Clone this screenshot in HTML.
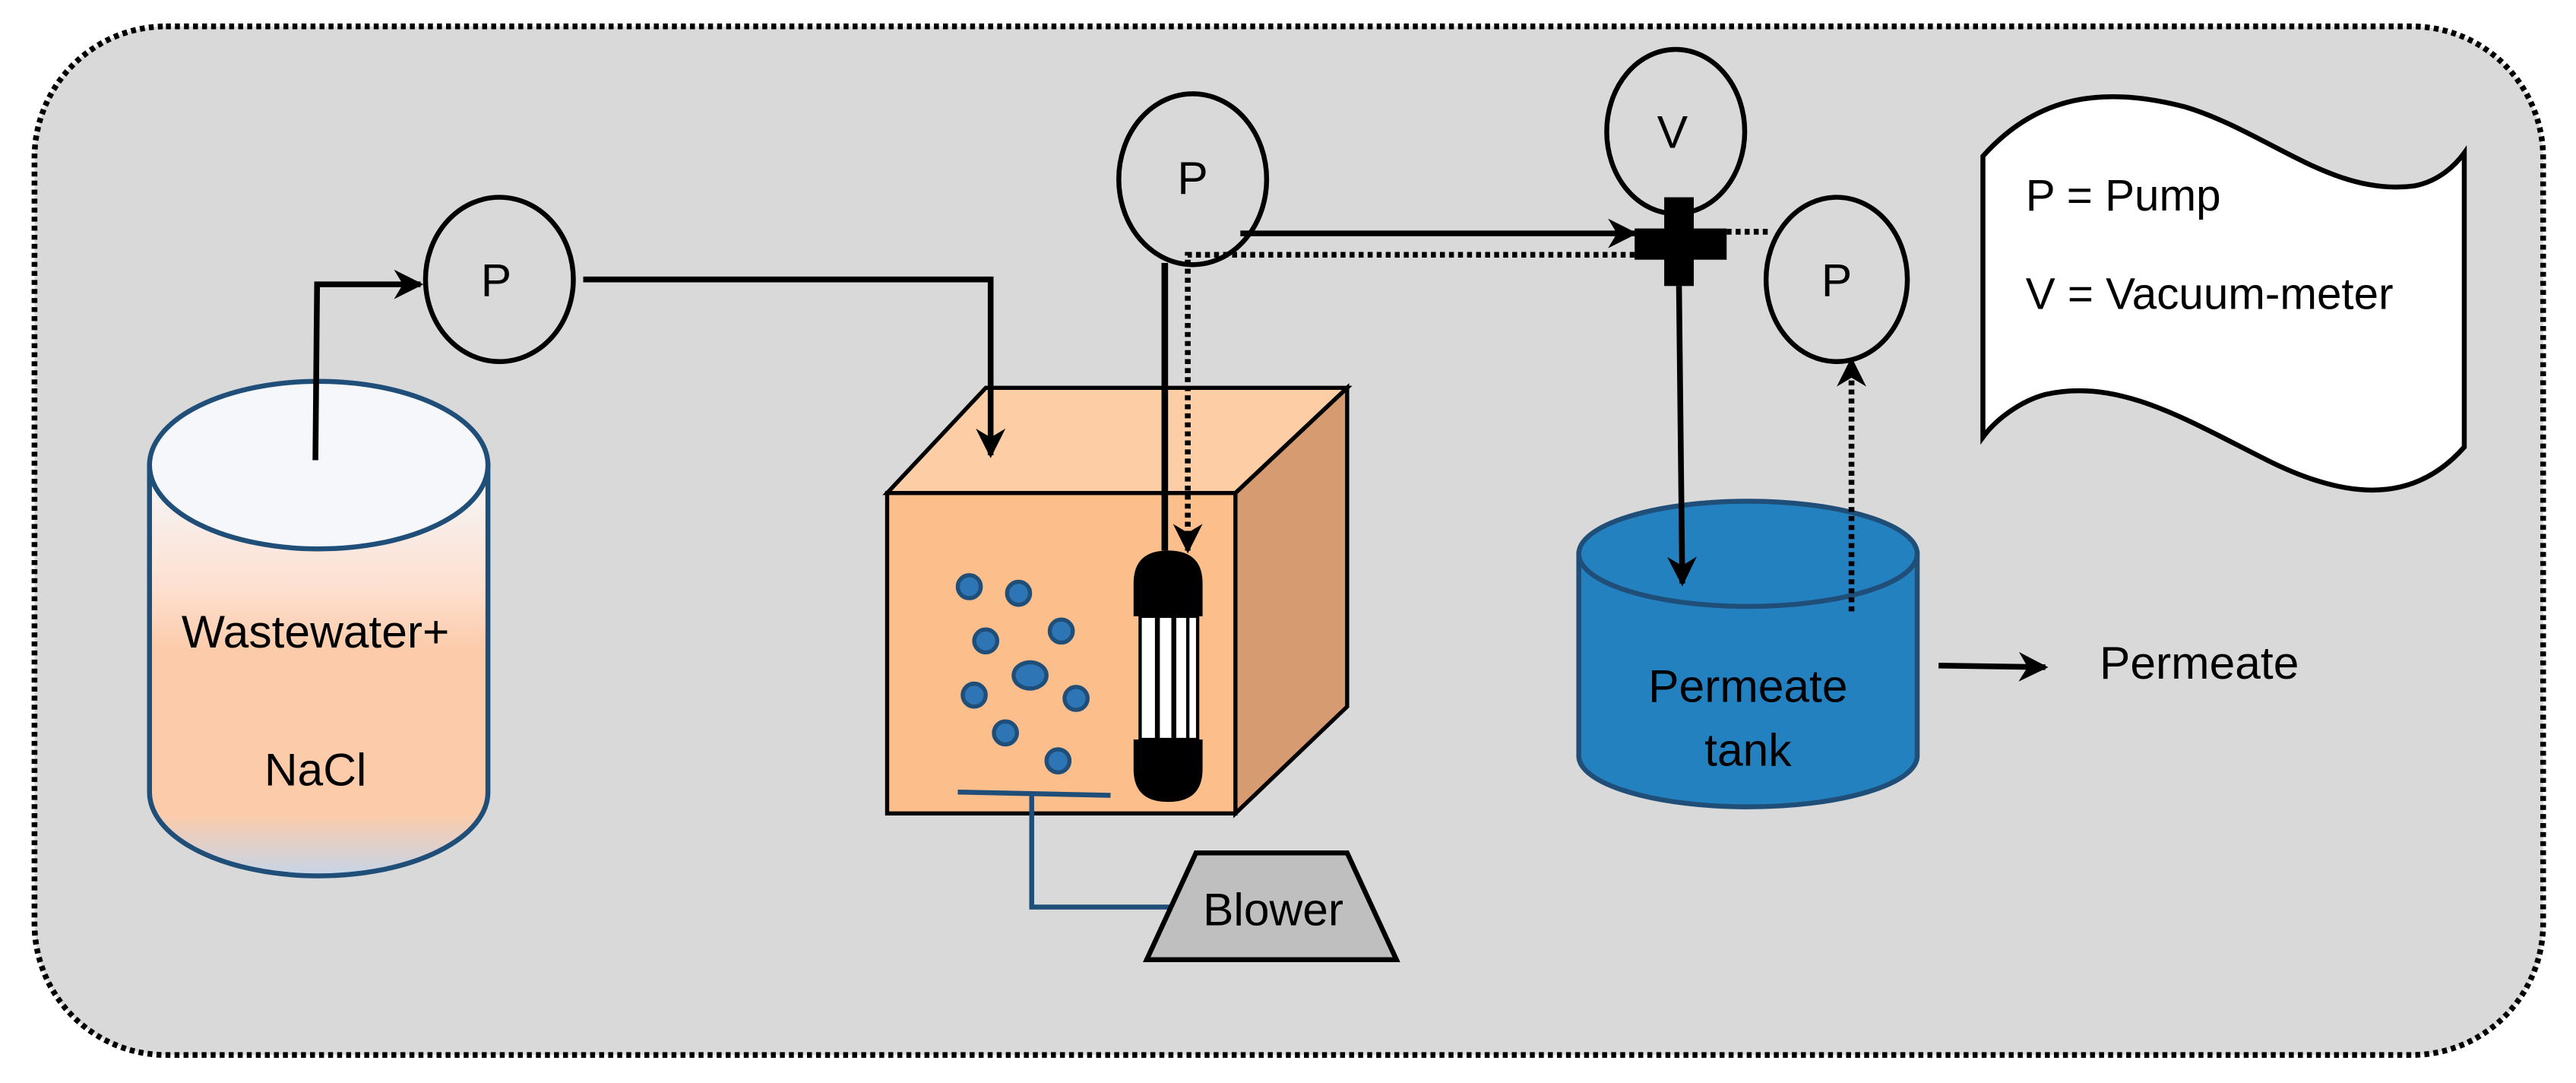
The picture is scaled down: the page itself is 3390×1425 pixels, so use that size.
<!DOCTYPE html>
<html><head><meta charset="utf-8"><style>html,body{margin:0;padding:0;background:#fff}svg{display:block}text{font-family:"Liberation Sans",sans-serif;fill:#000}</style></head>
<body>
<svg width="3390" height="1425" viewBox="0 0 1568 659" xmlns="http://www.w3.org/2000/svg">
<defs>
<linearGradient id="g1" x1="0" y1="0" x2="0" y2="1">
<stop offset="0" stop-color="#f5f8fc"/><stop offset="0.3" stop-color="#fde0d0"/><stop offset="0.45" stop-color="#fccbaa"/><stop offset="0.85" stop-color="#fccbaa"/><stop offset="1" stop-color="#c6d5e8"/>
</linearGradient>
<marker id="ar2" viewBox="0 0 10 10" refX="9" refY="5" markerWidth="18" markerHeight="18" orient="auto" markerUnits="userSpaceOnUse"><path d="M0,0 L10,5 L0,10 L3,5 z" fill="#000"/></marker>
</defs>
<rect x="21" y="16" width="1527" height="626" rx="80" fill="#d9d9d9" stroke="#000" stroke-width="3.5" stroke-dasharray="3,2.5"/>
<!-- left cylinder -->
<path d="M91,283 L91,482 A103,51 0 0 0 297,482 L297,283 Z" fill="url(#g1)" stroke="#1f4e79" stroke-width="3"/>
<ellipse cx="194" cy="283" rx="103" ry="51" fill="#f6f7fa" stroke="#1f4e79" stroke-width="3"/>
<text x="192" y="394" font-size="28" text-anchor="middle">Wastewater+</text>
<text x="192" y="478" font-size="28" text-anchor="middle">NaCl</text>
<!-- box -->
<polygon points="540,300 600,236 820,236 752,300" fill="#fdcda5" stroke="#000" stroke-width="2.5"/>
<polygon points="752,300 820,236 820,430 752,495" fill="#d79b72" stroke="#000" stroke-width="2.5"/>
<rect x="540" y="300" width="212" height="195" fill="#fcbf8c" stroke="#000" stroke-width="2.5"/>
<g fill="#2e75b6" stroke="#1f4e79" stroke-width="2.5">
<circle cx="590" cy="357" r="7"/><circle cx="620" cy="361" r="7"/><circle cx="600" cy="390" r="7"/><circle cx="646" cy="384" r="7"/><ellipse cx="627" cy="411" rx="10" ry="8"/><circle cx="593" cy="423" r="7"/><circle cx="655" cy="425" r="7"/><circle cx="612" cy="446" r="7"/><circle cx="644" cy="463" r="7"/>
</g>
<!-- membrane -->
<path d="M690,375 L690,355 Q690,335 711,335 Q732,335 732,355 L732,375 Z" fill="#000"/>
<path d="M690,450 L690,468 Q690,488 711,488 Q732,488 732,468 L732,450 Z" fill="#000"/>
<rect x="694" y="375" width="35" height="75" fill="#fff" stroke="#000" stroke-width="2"/>
<rect x="703" y="375" width="3" height="75" fill="#000"/><rect x="713" y="375" width="3" height="75" fill="#000"/><rect x="722" y="375" width="2" height="75" fill="#000"/>
<!-- diffuser -->
<line x1="583" y1="482" x2="676" y2="484" stroke="#1f4e79" stroke-width="3"/>
<polyline points="628,483 628,552 712,552" fill="none" stroke="#1f4e79" stroke-width="3"/>
<polygon points="698,584 728,519 820,519 850,584" fill="#bfbfbf" stroke="#000" stroke-width="3"/>
<text x="775" y="563" font-size="28" text-anchor="middle">Blower</text>
<!-- permeate tank -->
<path d="M961,337 L961,460 A103,31 0 0 0 1167,460 L1167,337 Z" fill="#2481c0" stroke="#1f4e79" stroke-width="3"/>
<ellipse cx="1064" cy="337" rx="103" ry="32" fill="#2481c0" stroke="#1f4e79" stroke-width="3"/>
<text x="1064" y="427" font-size="28" text-anchor="middle">Permeate</text>
<text x="1064" y="466" font-size="28" text-anchor="middle">tank</text>
<!-- pipes -->
<polyline points="192,280 193,173 256,173" fill="none" stroke="#000" stroke-width="3.5" marker-end="url(#ar2)"/>
<ellipse cx="304" cy="170" rx="45" ry="50" fill="none" stroke="#000" stroke-width="3"/>
<text x="302" y="180" font-size="28" text-anchor="middle">P</text>
<polyline points="355,170 603,170 603,277" fill="none" stroke="#000" stroke-width="3.5" marker-end="url(#ar2)"/>
<!-- P2 -->
<ellipse cx="726" cy="109" rx="45" ry="52" fill="none" stroke="#000" stroke-width="3"/>
<text x="726" y="118" font-size="28" text-anchor="middle">P</text>
<line x1="709" y1="160" x2="709" y2="335" stroke="#000" stroke-width="4"/>
<polyline points="995,155 723,155 723,335" fill="none" stroke="#000" stroke-width="3.5" stroke-dasharray="3,2.5" marker-end="url(#ar2)"/>
<line x1="755" y1="142" x2="995" y2="142" stroke="#000" stroke-width="3.5" marker-end="url(#ar2)"/>
<!-- cross -->
<rect x="995" y="139" width="56" height="19" fill="#000"/>
<rect x="1013" y="120" width="18" height="54" fill="#000"/>
<ellipse cx="1020" cy="80" rx="42" ry="50" fill="none" stroke="#000" stroke-width="3"/>
<text x="1018" y="90" font-size="28" text-anchor="middle">V</text>
<polyline points="1022,174 1024,355" fill="none" stroke="#000" stroke-width="3.5" marker-end="url(#ar2)"/>
<line x1="1051" y1="141" x2="1078" y2="141" stroke="#000" stroke-width="3.5" stroke-dasharray="3,2.5"/>
<ellipse cx="1118" cy="170" rx="43" ry="50" fill="none" stroke="#000" stroke-width="3"/>
<text x="1118" y="180" font-size="28" text-anchor="middle">P</text>
<line x1="1127" y1="372" x2="1127" y2="219" stroke="#000" stroke-width="3.5" stroke-dasharray="3,2.5" marker-end="url(#ar2)"/>
<line x1="1180" y1="405" x2="1245" y2="406" stroke="#000" stroke-width="3.5" marker-end="url(#ar2)"/>
<text x="1278" y="413" font-size="28">Permeate</text>
<!-- legend -->
<path d="M1207,95 C1240,58 1280,52 1330,65 C1380,80 1420,120 1470,113 C1485,110 1495,100 1500,93 L1500,272 C1470,306 1430,305 1380,280 C1330,255 1290,230 1245,240 C1230,244 1215,255 1207,266 Z" fill="#fff" stroke="#000" stroke-width="3"/>
<text x="1233" y="128" font-size="27">P = Pump</text>
<text x="1233" y="188" font-size="27">V = Vacuum-meter</text>
</svg>
</body></html>
